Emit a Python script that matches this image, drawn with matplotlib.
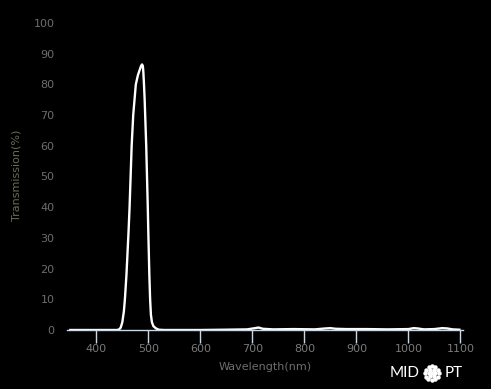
import numpy as np
import matplotlib
matplotlib.use("Agg")
import matplotlib.pyplot as plt

# transmission curve
wavelength = [350, 440, 444, 447, 450, 453, 455, 458, 460, 462, 464, 466, 468, 471,
              474, 476, 480, 484, 486, 488, 489.5, 490.5, 491.7, 493, 494, 495, 496,
              497.5, 499, 500, 501, 502, 503.5, 505, 507, 510, 515, 520, 530,
              600, 650, 690, 705, 712, 720, 740, 780, 820, 840, 850, 860, 880, 920,
              960, 1000, 1010, 1018, 1030, 1050, 1065, 1075, 1085, 1098]
transmission = [0, 0, 0.2, 0.8, 2.5, 6, 10, 18, 25, 32, 40, 50, 60, 70,
                76, 80, 83, 85, 86, 86.5, 86, 84, 80, 75, 70, 65, 60,
                50, 40, 32, 25, 18, 10, 5, 2.5, 1.2, 0.5, 0.1, 0,
                0, 0.1, 0.2, 0.6, 0.8, 0.4, 0.2, 0.3, 0.2, 0.5, 0.6, 0.4, 0.3, 0.3,
                0.2, 0.3, 0.6, 0.5, 0.2, 0.3, 0.6, 0.5, 0.2, 0.1]
xticks = [400, 500, 600, 700, 800, 900, 1000, 1100]
yticks = [0, 10, 20, 30, 40, 50, 60, 70, 80, 90, 100]

fig = plt.figure(figsize=(4.91, 3.89), dpi=100, facecolor="black")
ax = fig.add_axes([67 / 491, 59 / 389, 396 / 491, 307 / 389], facecolor="black")

ax.plot(wavelength, transmission, color="white", linewidth=1.7,
        solid_joinstyle="round")
ax.set_xlim(343.7, 1105)
ax.set_ylim(0, 100)
ax.set_xticks(xticks)
ax.set_yticks(yticks)

for s in ["top", "right", "left"]:
    ax.spines[s].set_visible(False)
ax.spines["bottom"].set_color("#c8d8e8")
ax.spines["bottom"].set_linewidth(1)
ax.tick_params(axis="x", colors="#c8d8e8", length=9, width=1, labelcolor="#7a7a7a",
               labelsize=8, pad=1)
ax.tick_params(axis="y", length=0, labelcolor="#6e6e6e", labelsize=8, pad=9)

ax.set_xlabel("Wavelength(nm)", color="#6e6e6e", fontsize=8, labelpad=6)
fig.text(17 / 491, 1 - 175 / 389, "Transmission(%)", rotation=90, color="#6b6b55",
         fontsize=8, ha="center", va="center")

# logo
fig.text(405 / 491, 1 - 373 / 389, "MID", color="white", fontsize=11, ha="center",
         va="center", fontfamily="Lato")
fig.text(454 / 491, 1 - 373 / 389, "PT", color="white", fontsize=11, ha="center",
         va="center", fontfamily="Lato")
cx, cy = 432 / 491, 1 - 373 / 389
dots_x = [cx]
dots_y = [cy]
for r, n in [(3.5, 6), (7, 12)]:
    for k in range(n):
        a = 2 * np.pi * k / n
        dots_x.append(cx + r * np.cos(a) / 491)
        dots_y.append(cy + r * np.sin(a) / 389)
fig.add_artist(plt.Line2D(dots_x, dots_y, transform=fig.transFigure, linestyle="none",
                          marker="o", markersize=2.2, color="white"))

fig.savefig("out.png", dpi=100, facecolor="black")
